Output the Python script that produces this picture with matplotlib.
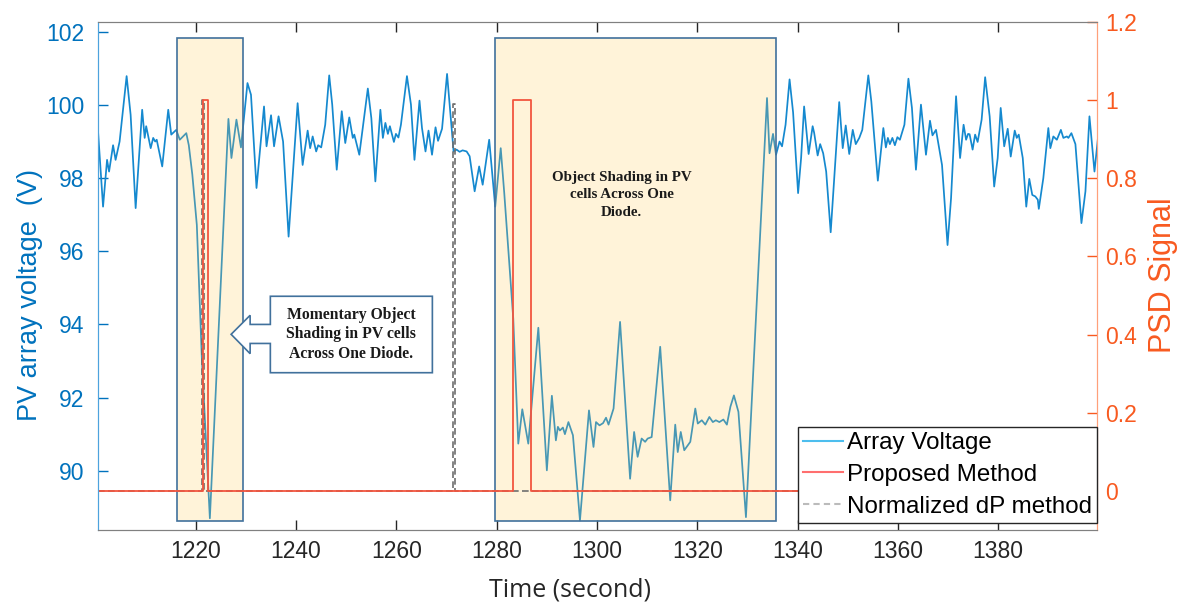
import matplotlib
matplotlib.use("Agg")
import matplotlib.pyplot as plt
from matplotlib.patches import Rectangle, Polygon
from matplotlib.lines import Line2D

# array voltage (time in s, voltage in V)
time_s = [1200.5, 1201.5, 1202.3, 1202.7, 1203.5, 1204.0, 1204.8, 1206.2, 1207.0, 1208.0,
          1209.3, 1209.8, 1210.1, 1211.0, 1211.5, 1211.9, 1212.2, 1213.3, 1214.5, 1215.1,
          1216.1, 1216.8, 1218.1, 1218.6, 1219.3, 1220.2, 1221.2, 1222.8, 1226.5, 1227.1,
          1228.1, 1229.0, 1229.6, 1230.3, 1231.0, 1232.1, 1233.6, 1234.1, 1235.0, 1235.6,
          1236.5, 1237.4, 1238.5, 1240.3, 1241.3, 1242.3, 1242.8, 1243.3, 1244.0, 1244.4,
          1245.0, 1245.8, 1246.6, 1247.2, 1248.1, 1249.1, 1249.8, 1250.6, 1251.3, 1251.6,
          1252.6, 1254.3, 1255.0, 1255.8, 1256.8, 1257.3, 1257.8, 1258.3, 1258.7, 1259.5,
          1259.9, 1260.4, 1260.9, 1262.1, 1262.9, 1263.6, 1264.6, 1265.1, 1265.8, 1266.4,
          1267.1, 1267.8, 1268.3, 1269.1, 1270.1, 1271.0, 1271.4, 1272.0, 1272.6, 1273.2,
          1274.0, 1274.6, 1275.6, 1276.5, 1277.2, 1278.5, 1279.7, 1280.8, 1281.5, 1283.3,
          1284.3, 1285.1, 1286.3, 1288.3, 1290.0, 1291.0, 1291.8, 1292.2, 1292.6, 1293.2,
          1293.6, 1294.3, 1295.2, 1296.6, 1298.4, 1299.3, 1299.8, 1300.5, 1301.2, 1301.8,
          1302.3, 1303.3, 1304.6, 1306.6, 1307.4, 1308.1, 1308.9, 1309.6, 1310.1, 1310.9,
          1312.6, 1314.6, 1315.6, 1316.1, 1316.7, 1317.4, 1318.6, 1319.6, 1320.1, 1320.9,
          1321.6, 1322.4, 1323.1, 1323.7, 1324.4, 1325.2, 1325.9, 1326.6, 1327.3, 1328.2,
          1329.7, 1333.9, 1334.4, 1335.1, 1335.7, 1336.4, 1336.9, 1337.6, 1338.4, 1339.1,
          1340.1, 1340.7, 1341.3, 1342.2, 1343.0, 1343.3, 1344.0, 1344.5, 1345.1, 1345.7,
          1346.6, 1348.3, 1349.0, 1349.6, 1350.3, 1351.0, 1351.6, 1352.3, 1352.9, 1354.1,
          1354.7, 1356.0, 1357.1, 1357.6, 1358.0, 1358.4, 1358.9, 1359.4, 1359.9, 1360.4,
          1361.3, 1362.1, 1362.8, 1363.6, 1364.6, 1365.6, 1366.4, 1366.9, 1367.6, 1368.8,
          1369.9, 1370.6, 1371.6, 1372.4, 1373.1, 1373.6, 1374.0, 1374.3, 1374.9, 1375.4,
          1375.9, 1376.7, 1377.4, 1378.3, 1379.2, 1379.9, 1380.5, 1381.2, 1381.9, 1382.5,
          1383.3, 1383.7, 1384.1, 1384.9, 1385.6, 1386.2, 1386.8, 1387.4, 1387.9, 1388.1,
          1389.0, 1390.0, 1390.4, 1391.0, 1391.7, 1392.5, 1393.0, 1393.7, 1394.0, 1394.6,
          1395.4, 1396.6, 1397.4, 1398.2, 1399.2, 1399.9]
array_v = [99.28, 97.22, 98.5, 98.18, 98.9, 98.5, 99.0, 100.79, 99.73, 97.18,
           99.87, 99.1, 99.42, 98.82, 99.1, 99.0, 99.05, 98.32, 99.87, 99.19,
           99.32, 99.05, 99.23, 98.9, 98.1, 96.72, 93.07, 88.7, 99.62, 98.55,
           99.6, 98.84, 99.64, 100.6, 100.28, 97.73, 99.96, 98.87, 99.72, 98.87,
           99.69, 99.0, 96.4, 100.05, 98.36, 99.3, 98.82, 99.14, 98.73, 98.9,
           98.84, 99.46, 100.81, 100.01, 98.23, 99.83, 98.96, 99.66, 99.1, 99.19,
           98.64, 100.45, 99.64, 97.91, 99.87, 99.1, 99.51, 99.21, 99.42, 98.99,
           99.21, 99.11, 99.46, 100.79, 100.01, 98.5, 100.12, 99.37, 98.73, 99.3,
           98.64, 99.39, 99.02, 99.35, 100.85, 99.37, 98.73, 98.78, 98.72, 98.76,
           98.73, 98.6, 97.64, 98.32, 97.82, 99.05, 97.22, 98.82, 97.6, 94.16,
           90.74, 91.68, 90.74, 93.91, 90.01, 92.05, 90.83, 91.2, 91.1, 91.18,
           91.0, 91.33, 90.97, 88.64, 91.65, 90.65, 91.33, 91.24, 91.3, 91.45,
           91.26, 91.7, 94.07, 89.78, 91.06, 90.38, 90.88, 90.79, 90.88, 90.92,
           93.39, 89.19, 91.26, 90.51, 91.06, 90.56, 90.79, 91.7, 91.29, 91.38,
           91.26, 91.47, 91.33, 91.38, 91.33, 91.4, 91.26, 91.75, 92.06, 91.61,
           88.73, 100.19, 98.68, 99.21, 98.64, 99.0, 98.87, 99.46, 100.7, 99.8,
           97.59, 98.55, 99.96, 98.66, 99.42, 99.24, 98.62, 98.93, 98.68, 98.18,
           96.52, 100.08, 98.82, 99.44, 98.66, 99.32, 98.93, 99.1, 99.32, 100.81,
           100.1, 97.93, 99.37, 98.84, 99.1, 98.93, 99.1, 98.9, 99.12, 99.05,
           99.46, 100.72, 99.92, 98.23, 100.01, 98.64, 99.57, 99.17, 99.32, 98.36,
           96.17, 97.45, 100.24, 98.55, 99.46, 99.05, 99.21, 99.2, 98.78, 99.19,
           98.99, 99.6, 100.76, 99.69, 97.77, 98.55, 99.92, 98.87, 99.35, 98.59,
           99.3, 99.1, 99.19, 98.55, 97.22, 97.98, 97.54, 97.5, 97.41, 97.16,
           98.0, 99.37, 98.82, 99.14, 99.05, 99.32, 99.1, 99.14, 99.1, 99.23,
           98.93, 96.77, 97.64, 99.69, 98.18, 99.1]

# PSD signals, step values starting at each time
proposed_t = [1200.5, 1221.5, 1222.5, 1283.3, 1286.9, 1399.9]
proposed_v = [0, 1, 0, 1, 0, 0]
dp_t = [1200.5, 1221.3, 1221.6, 1271.2, 1271.6, 1399.9]
dp_v = [0, 1, 0, 0.99, 0, 0]

# shaded event windows (start, end) in seconds
events = [(1216.3, 1229.4), (1279.7, 1335.6)]

blue = "#1589CF"
left_col = "#0072BD"
right_col = "#F85A20"

fig = plt.figure(figsize=(11.84, 6.07), dpi=100)
ax1 = fig.add_axes([0.0828, 0.1269, 0.8437, 0.8369])
ax2 = ax1.twinx()

ax1.plot(time_s, array_v, color=blue, lw=1.25, zorder=2)
ax1.set_xlim(1200.5, 1399.7)
ax1.set_ylim(88.38, 102.27)
ax1.set_xticks(range(1220, 1400, 20))
ax1.set_yticks(range(90, 103, 2))

for t0, t1 in events:
    ax1.add_patch(Rectangle((t0, 88.63), t1 - t0, 101.84 - 88.63, facecolor="#FFCC55",
                            alpha=0.22, edgecolor="none", zorder=5))
    ax1.add_patch(Rectangle((t0, 88.63), t1 - t0, 101.84 - 88.63, facecolor="none",
                            edgecolor="#41719C", lw=1.2, zorder=6))

# left arrow callout
callout = [(1234.86, 94.77), (1267.17, 94.77), (1267.17, 92.68), (1234.86, 92.68),
           (1234.86, 93.48), (1230.83, 93.48), (1230.83, 93.2), (1227.04, 93.73),
           (1230.83, 94.25), (1230.83, 94.0), (1234.86, 94.0)]
ax1.add_patch(Polygon(callout, closed=True, facecolor="white", edgecolor="#41719C",
                      lw=1.2, zorder=7))
ax1.text(1251.0, 93.73, "Momentary Object\nShading in PV cells\nAcross One Diode.",
         ha="center", va="center", fontsize=11.3, fontweight="bold",
         family="Liberation Serif", color="#1a1a1a", linespacing=1.3, zorder=8)
ax1.text(1304.95, 97.55, "Object Shading in PV\ncells Across One\nDiode.",
         ha="center", va="center", fontsize=10.8, fontweight="bold",
         family="Liberation Serif", color="#1a1a1a", linespacing=1.45, zorder=8)

ax2.plot(dp_t, dp_v, color="#6e6e6e", lw=1.2, ls=(0, (4, 2)), drawstyle="steps-post")
ax2.plot(proposed_t, proposed_v, color="#F2553F", lw=1.3, drawstyle="steps-post")
ax2.set_ylim(-0.1, 1.2)
ax2.set_yticks([0, 0.2, 0.4, 0.6, 0.8, 1, 1.2])
ax2.set_yticklabels(["0", "0.2", "0.4", "0.6", "0.8", "1", "1.2"])

tick_font = "Liberation Sans"
ax1.tick_params(axis="x", direction="in", length=7, width=1, top=True, colors="#262626",
                labelsize=16.5, pad=7.5)
ax1.tick_params(axis="y", direction="in", length=7, width=1, colors=left_col,
                labelsize=16.5, pad=10)
ax2.tick_params(axis="y", direction="in", length=7, width=1, colors=right_col,
                labelsize=16.5, pad=6)
for lab in ax1.get_xticklabels() + ax1.get_yticklabels() + ax2.get_yticklabels():
    lab.set_family(tick_font)

for ax in (ax1, ax2):
    ax.spines["top"].set_color("#808080")
    ax.spines["bottom"].set_color("#808080")
    ax.spines["left"].set_color("#4DA3DD")
    ax.spines["right"].set_color("#FFA07A")

ax1.set_ylabel("PV array voltage  (V)", color=left_col, fontsize=19.5, family=tick_font)
ax1.yaxis.set_label_coords(-0.055, 0.4616)
ax2.set_ylabel("PSD Signal", color=right_col, fontsize=22, family=tick_font)
ax2.yaxis.set_label_coords(1.051, 0.502)
ax1.set_xlabel("Time (second)", color="#262626", fontsize=18, family="Open Sans")
ax1.xaxis.set_label_coords(0.4725, -0.093)

handles = [Line2D([], [], color="#4DBEEE", lw=1.5),
           Line2D([], [], color="#FF6F6F", lw=1.5),
           Line2D([], [], color="#BBBBBB", lw=1.5, ls=(0, (3, 2)))]
leg = ax2.legend(handles, ["Array Voltage", "Proposed Method", "Normalized dP method"],
                 loc="lower right", bbox_to_anchor=(1.0, 0.014), borderaxespad=0,
                 prop={"family": tick_font, "size": 17.4}, fancybox=False,
                 edgecolor="#262626", framealpha=1, handlelength=1.65,
                 handletextpad=0.15, borderpad=0.22, labelspacing=0.4)
leg.get_frame().set_linewidth(1)

fig.savefig("out.png", dpi=100)
